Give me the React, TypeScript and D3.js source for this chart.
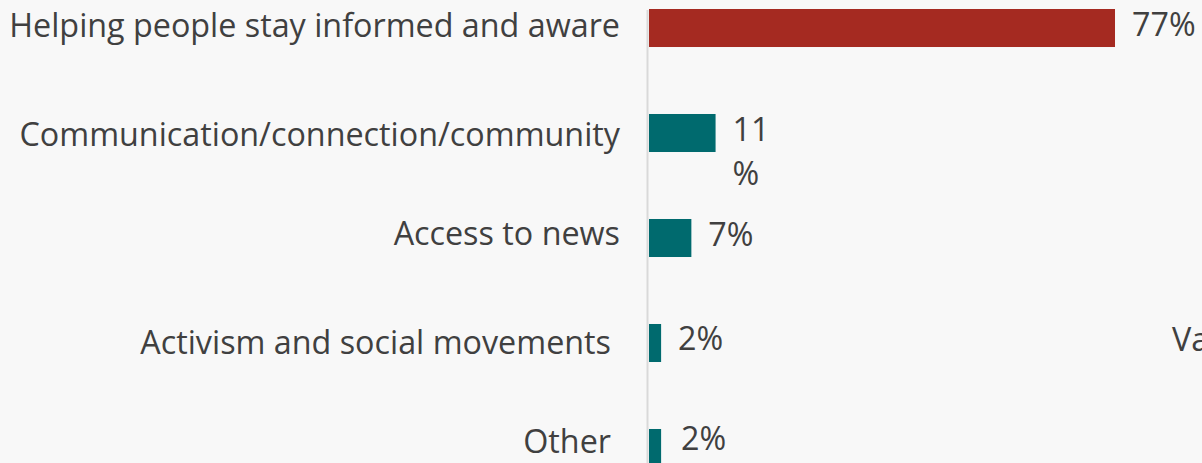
import React from "react";
import * as d3 from "d3";

const categories = [
  "Helping people stay informed and aware",
  "Communication/connection/community",
  "Access to news",
  "Activism and social movements",
  "Other",
];
const values = [77, 11, 7, 2, 2];
const barColors = ["#a52a21", "#006a6e", "#006a6e", "#006a6e", "#006a6e"];
const sideNote = "Va";

const W = 1202;
const H = 463;
const FONT = "'Open Sans', sans-serif";
const FS = 32.3;
const TEXT = "#404040";
// small per-row nudges of the category labels (layout only)
const labelNudgeX = [0, 0, 0, -9, -9];
const labelNudgeY = [9, 13, 7, 11, 5];
const valueNudgeY = [7.5, 7.5, 7.5, 7.5, 2];

export default function App() {
  const x = d3.scaleLinear().domain([0, 100]).range([649, 649 + 605.2]);
  const y = d3
    .scaleBand<string>()
    .domain(categories)
    .range([9, 467])
    .paddingInner(0.638)
    .paddingOuter(0);
  const bw = y.bandwidth();

  return (
    <svg
      width={W}
      height={H}
      style={{ position: "absolute", left: 0, top: 0, background: "#f8f8f8", overflow: "hidden" }}
      fontFamily={FONT}
    >
      <rect x={0} y={0} width={W} height={H} fill="#f8f8f8" />
      {categories.map((c, i) => {
        const y0 = y(c)!;
        const cy = y0 + bw / 2;
        const x1 = x(values[i]);
        const lx = x1 + 17 + (i === 4 ? 3 : 0);
        const wrap = values[i] === 11;
        return (
          <g key={c}>
            <rect x={x(0)} y={y0} width={x1 - x(0)} height={bw} fill={barColors[i]} />
            <text
              x={620 + labelNudgeX[i]}
              y={cy + labelNudgeY[i]}
              textAnchor="end"
              fontSize={FS}
              fill={TEXT}
            >
              {c}
            </text>
            {wrap ? (
              <text x={lx} y={cy + valueNudgeY[i]} fontSize={FS} fill={TEXT}>
                <tspan x={lx}>{values[i]}</tspan>
                <tspan x={lx} dy={44}>%</tspan>
              </text>
            ) : (
              <text x={lx} y={cy + valueNudgeY[i]} fontSize={FS} fill={TEXT}>
                {values[i]}%
              </text>
            )}
          </g>
        );
      })}
      <line x1={647.5} x2={647.5} y1={10} y2={H} stroke="#d9d9d9" strokeWidth={2} />
      <text x={1172} y={351} fontSize={FS} fill={TEXT}>
        {sideNote}
      </text>
    </svg>
  );
}
